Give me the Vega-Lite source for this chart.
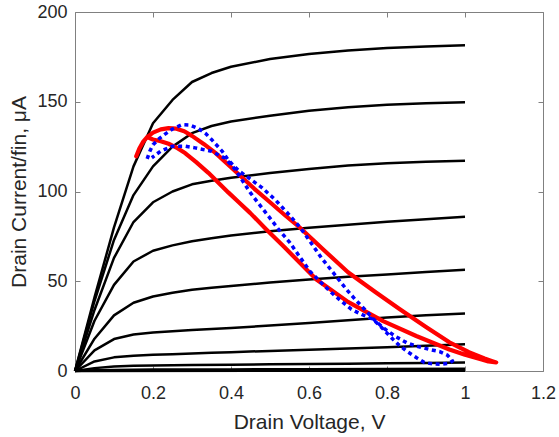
{
  "$schema": "https://vega.github.io/schema/vega-lite/v6.json",
  "width": 468,
  "height": 359,
  "autosize": "none",
  "padding": {"left": 75, "top": 12, "right": 16, "bottom": 66},
  "background": "white",
  "config": {
    "view": {"stroke": null},
    "axis": {
      "grid": false,
      "domainColor": "#808080",
      "tickColor": "#808080",
      "labelColor": "#262626",
      "titleColor": "#262626",
      "labelFont": "Liberation Sans",
      "titleFont": "Liberation Sans",
      "labelFontSize": 18,
      "titleFontSize": 21,
      "titleFontWeight": "normal",
      "tickSize": -5,
      "domainWidth": 1,
      "tickWidth": 1,
      "labelFlush": false,
      "labelOverlap": false
    }
  },
  "datasets": {
    "iv": [
      {"c":"g1","v":0,"i":0},{"c":"g1","v":0.05,"i":41},{"c":"g1","v":0.1,"i":80},{"c":"g1","v":0.15,"i":114},{"c":"g1","v":0.2,"i":138},{"c":"g1","v":0.25,"i":151},{"c":"g1","v":0.3,"i":161},{"c":"g1","v":0.35,"i":166},{"c":"g1","v":0.4,"i":169.5},{"c":"g1","v":0.5,"i":173.8},{"c":"g1","v":0.6,"i":176.6},{"c":"g1","v":0.7,"i":178.6},{"c":"g1","v":0.8,"i":180},{"c":"g1","v":0.9,"i":180.8},{"c":"g1","v":1,"i":181.5},
      {"c":"g2","v":0,"i":0},{"c":"g2","v":0.05,"i":39},{"c":"g2","v":0.1,"i":73},{"c":"g2","v":0.15,"i":98},{"c":"g2","v":0.2,"i":114},{"c":"g2","v":0.25,"i":125},{"c":"g2","v":0.3,"i":132.5},{"c":"g2","v":0.35,"i":136.5},{"c":"g2","v":0.4,"i":139},{"c":"g2","v":0.5,"i":142.2},{"c":"g2","v":0.6,"i":145},{"c":"g2","v":0.7,"i":147},{"c":"g2","v":0.8,"i":148.3},{"c":"g2","v":0.9,"i":149.1},{"c":"g2","v":1,"i":149.7},
      {"c":"g3","v":0,"i":0},{"c":"g3","v":0.05,"i":34},{"c":"g3","v":0.1,"i":63},{"c":"g3","v":0.15,"i":83},{"c":"g3","v":0.2,"i":94},{"c":"g3","v":0.25,"i":100},{"c":"g3","v":0.3,"i":104},{"c":"g3","v":0.35,"i":106},{"c":"g3","v":0.4,"i":107.7},{"c":"g3","v":0.5,"i":110.3},{"c":"g3","v":0.6,"i":112.6},{"c":"g3","v":0.7,"i":114.5},{"c":"g3","v":0.8,"i":115.8},{"c":"g3","v":0.9,"i":116.6},{"c":"g3","v":1,"i":117.2},
      {"c":"g4","v":0,"i":0},{"c":"g4","v":0.05,"i":28},{"c":"g4","v":0.1,"i":48},{"c":"g4","v":0.15,"i":61},{"c":"g4","v":0.2,"i":67},{"c":"g4","v":0.25,"i":70},{"c":"g4","v":0.3,"i":72.3},{"c":"g4","v":0.35,"i":74},{"c":"g4","v":0.4,"i":75.5},{"c":"g4","v":0.5,"i":77.8},{"c":"g4","v":0.6,"i":79.8},{"c":"g4","v":0.7,"i":81.5},{"c":"g4","v":0.8,"i":83.1},{"c":"g4","v":0.9,"i":84.6},{"c":"g4","v":1,"i":85.9},
      {"c":"g5","v":0,"i":0},{"c":"g5","v":0.05,"i":18},{"c":"g5","v":0.1,"i":31},{"c":"g5","v":0.15,"i":38},{"c":"g5","v":0.2,"i":41.5},{"c":"g5","v":0.25,"i":43.6},{"c":"g5","v":0.3,"i":45.3},{"c":"g5","v":0.35,"i":46.4},{"c":"g5","v":0.4,"i":47.4},{"c":"g5","v":0.5,"i":49.3},{"c":"g5","v":0.6,"i":51},{"c":"g5","v":0.7,"i":52.5},{"c":"g5","v":0.8,"i":53.8},{"c":"g5","v":0.9,"i":55.1},{"c":"g5","v":1,"i":56.4},
      {"c":"g6","v":0,"i":0},{"c":"g6","v":0.05,"i":11.5},{"c":"g6","v":0.1,"i":17.8},{"c":"g6","v":0.15,"i":20.3},{"c":"g6","v":0.2,"i":21.5},{"c":"g6","v":0.25,"i":22.2},{"c":"g6","v":0.3,"i":22.8},{"c":"g6","v":0.35,"i":23.4},{"c":"g6","v":0.4,"i":24},{"c":"g6","v":0.5,"i":25.3},{"c":"g6","v":0.6,"i":26.8},{"c":"g6","v":0.7,"i":28.3},{"c":"g6","v":0.8,"i":29.8},{"c":"g6","v":0.9,"i":31},{"c":"g6","v":1,"i":32.1},
      {"c":"g7","v":0,"i":0},{"c":"g7","v":0.05,"i":5.3},{"c":"g7","v":0.1,"i":7.6},{"c":"g7","v":0.15,"i":8.5},{"c":"g7","v":0.2,"i":9},{"c":"g7","v":0.25,"i":9.3},{"c":"g7","v":0.3,"i":9.7},{"c":"g7","v":0.35,"i":10.1},{"c":"g7","v":0.4,"i":10.5},{"c":"g7","v":0.5,"i":11.2},{"c":"g7","v":0.6,"i":11.9},{"c":"g7","v":0.7,"i":12.5},{"c":"g7","v":0.8,"i":13.2},{"c":"g7","v":0.9,"i":14},{"c":"g7","v":1,"i":14.9},
      {"c":"g8","v":0,"i":0},{"c":"g8","v":0.05,"i":1.6},{"c":"g8","v":0.1,"i":2.5},{"c":"g8","v":0.15,"i":2.9},{"c":"g8","v":0.2,"i":3.1},{"c":"g8","v":0.3,"i":3.3},{"c":"g8","v":0.4,"i":3.5},{"c":"g8","v":0.5,"i":3.7},{"c":"g8","v":0.6,"i":3.9},{"c":"g8","v":0.7,"i":4.1},{"c":"g8","v":0.8,"i":4.3},{"c":"g8","v":0.9,"i":4.5},{"c":"g8","v":1,"i":4.7},
      {"c":"g9","v":0,"i":0},{"c":"g9","v":0.05,"i":0.4},{"c":"g9","v":0.1,"i":0.6},{"c":"g9","v":0.2,"i":0.8},{"c":"g9","v":0.4,"i":0.9},{"c":"g9","v":0.6,"i":1},{"c":"g9","v":0.8,"i":1.1},{"c":"g9","v":1,"i":1.2},
      {"c":"g10","v":0,"i":0},{"c":"g10","v":0.5,"i":0.1},{"c":"g10","v":1,"i":0.2}
    ],
    "red": [
      {"k":1,"v":0.157,"i":119.6},{"k":2,"v":0.165,"i":124},{"k":3,"v":0.175,"i":127.8},{"k":4,"v":0.185,"i":130.3},{"k":5,"v":0.2,"i":132.8},{"k":6,"v":0.22,"i":134.6},{"k":7,"v":0.24,"i":135.3},{"k":8,"v":0.26,"i":135},{"k":9,"v":0.28,"i":133.6},{"k":10,"v":0.3,"i":131},{"k":11,"v":0.33,"i":126.5},{"k":12,"v":0.36,"i":121.5},{"k":13,"v":0.4,"i":113.5},{"k":14,"v":0.43,"i":107.5},{"k":15,"v":0.46,"i":101.5},{"k":16,"v":0.5,"i":94},{"k":17,"v":0.54,"i":86.5},{"k":18,"v":0.577,"i":79.8},{"k":19,"v":0.64,"i":67},{"k":20,"v":0.7,"i":55},{"k":21,"v":0.77,"i":44},{"k":22,"v":0.832,"i":34.5},{"k":23,"v":0.9,"i":24.5},{"k":24,"v":0.96,"i":16},{"k":25,"v":1.01,"i":10.5},{"k":26,"v":1.05,"i":7},{"k":27,"v":1.07,"i":5.5},{"k":28,"v":1.08,"i":4.8},
      {"k":29,"v":1.06,"i":5.3},{"k":30,"v":1.045,"i":6.3},{"k":31,"v":1.0,"i":9},{"k":32,"v":0.96,"i":12},{"k":33,"v":0.875,"i":19.5},{"k":34,"v":0.79,"i":27.8},{"k":35,"v":0.7,"i":38.5},{"k":36,"v":0.619,"i":51},{"k":37,"v":0.534,"i":69.6},{"k":38,"v":0.49,"i":79},{"k":39,"v":0.449,"i":88.1},{"k":40,"v":0.42,"i":94},{"k":41,"v":0.393,"i":99.5},{"k":42,"v":0.342,"i":110.4},{"k":43,"v":0.31,"i":116.5},{"k":44,"v":0.283,"i":121.3},{"k":45,"v":0.26,"i":124.5},{"k":46,"v":0.24,"i":126.6},{"k":47,"v":0.22,"i":128},{"k":48,"v":0.2,"i":129},{"k":49,"v":0.185,"i":130.3}
    ],
    "blue": [
      {"k":1,"v":0.185,"i":118.2},{"k":2,"v":0.192,"i":122.5},{"k":3,"v":0.2,"i":126},{"k":4,"v":0.215,"i":129.3},{"k":5,"v":0.23,"i":131.8},{"k":6,"v":0.25,"i":134.8},{"k":7,"v":0.274,"i":137.2},{"k":8,"v":0.295,"i":137},{"k":9,"v":0.317,"i":135},{"k":10,"v":0.335,"i":132.3},{"k":11,"v":0.35,"i":129},{"k":12,"v":0.377,"i":122.5},{"k":13,"v":0.393,"i":117.5},{"k":14,"v":0.42,"i":111.5},{"k":15,"v":0.449,"i":107},{"k":16,"v":0.48,"i":102},{"k":17,"v":0.513,"i":95.5},{"k":18,"v":0.545,"i":88},{"k":19,"v":0.577,"i":80},{"k":20,"v":0.605,"i":71.5},{"k":21,"v":0.632,"i":63},{"k":22,"v":0.665,"i":54},{"k":23,"v":0.696,"i":45.5},{"k":24,"v":0.72,"i":39.5},{"k":25,"v":0.743,"i":34.3},{"k":26,"v":0.765,"i":29},{"k":27,"v":0.79,"i":24.1},{"k":28,"v":0.82,"i":19.5},{"k":29,"v":0.85,"i":15.8},{"k":30,"v":0.88,"i":13.6},{"k":31,"v":0.909,"i":12},{"k":32,"v":0.935,"i":10.8},{"k":33,"v":0.955,"i":8.8},{"k":34,"v":0.965,"i":6.5},{"k":35,"v":0.968,"i":5.6},
      {"k":36,"v":0.96,"i":4.3},{"k":37,"v":0.939,"i":3.7},{"k":38,"v":0.92,"i":3.9},{"k":39,"v":0.896,"i":4.7},{"k":40,"v":0.875,"i":7.5},{"k":41,"v":0.85,"i":11.1},{"k":42,"v":0.828,"i":15},{"k":43,"v":0.807,"i":19.5},{"k":44,"v":0.785,"i":24.5},{"k":45,"v":0.764,"i":28.8},{"k":46,"v":0.735,"i":31.5},{"k":47,"v":0.709,"i":34.3},{"k":48,"v":0.685,"i":38.5},{"k":49,"v":0.658,"i":43.6},{"k":50,"v":0.63,"i":49.5},{"k":51,"v":0.602,"i":55.6},{"k":52,"v":0.575,"i":64},{"k":53,"v":0.551,"i":71.5},{"k":54,"v":0.52,"i":79.5},{"k":55,"v":0.496,"i":86.3},{"k":56,"v":0.47,"i":93.5},{"k":57,"v":0.449,"i":99.5},{"k":58,"v":0.428,"i":106.5},{"k":59,"v":0.41,"i":112.5},{"k":60,"v":0.385,"i":118.5},{"k":61,"v":0.35,"i":122.4},{"k":62,"v":0.308,"i":124.3},{"k":63,"v":0.283,"i":125.2},{"k":64,"v":0.249,"i":125.2},{"k":65,"v":0.219,"i":122.4},{"k":66,"v":0.197,"i":118.8}
    ]
  },
  "layer": [
    {
      "data": {"name": "iv"},
      "mark": {"type": "line", "color": "#000000", "strokeWidth": 2.5, "strokeJoin": "round"},
      "encoding": {
        "x": {"field": "v", "type": "quantitative", "scale": {"domain": [0, 1.2], "nice": false},
          "axis": {"orient": "bottom", "values": [0, 0.2, 0.4, 0.6, 0.8, 1, 1.2], "format": "~g", "labelPadding": 18, "title": "Drain Voltage, V", "titleY": 57.5, "titleBaseline": "alphabetic"}},
        "y": {"field": "i", "type": "quantitative", "scale": {"domain": [0, 200], "nice": false},
          "axis": {"orient": "left", "values": [0, 50, 100, 150, 200], "labelPadding": 13, "title": "Drain Current/fin, μA", "titleAngle": 270, "titleX": -50, "titleY": 179.5, "titleBaseline": "alphabetic", "titleAlign": "center"}},
        "detail": {"field": "c", "type": "nominal"}
      }
    },
    {
      "data": {"name": "red"},
      "mark": {"type": "line", "color": "#ff0000", "strokeWidth": 4.2, "strokeJoin": "round", "strokeCap": "round"},
      "encoding": {
        "x": {"field": "v", "type": "quantitative", "axis": {"orient": "top", "values": [0, 0.2, 0.4, 0.6, 0.8, 1, 1.2], "labels": false, "title": null}},
        "y": {"field": "i", "type": "quantitative", "axis": {"orient": "right", "values": [0, 50, 100, 150, 200], "labels": false, "title": null}},
        "order": {"field": "k", "type": "quantitative"}
      }
    },
    {
      "data": {"name": "blue"},
      "mark": {"type": "line", "color": "#0000ff", "strokeWidth": 3.5, "strokeDash": [4, 3.6], "strokeJoin": "round"},
      "encoding": {
        "x": {"field": "v", "type": "quantitative", "axis": null},
        "y": {"field": "i", "type": "quantitative", "axis": null},
        "order": {"field": "k", "type": "quantitative"}
      }
    }
  ],
  "resolve": {"axis": {"x": "independent", "y": "independent"}}
}
